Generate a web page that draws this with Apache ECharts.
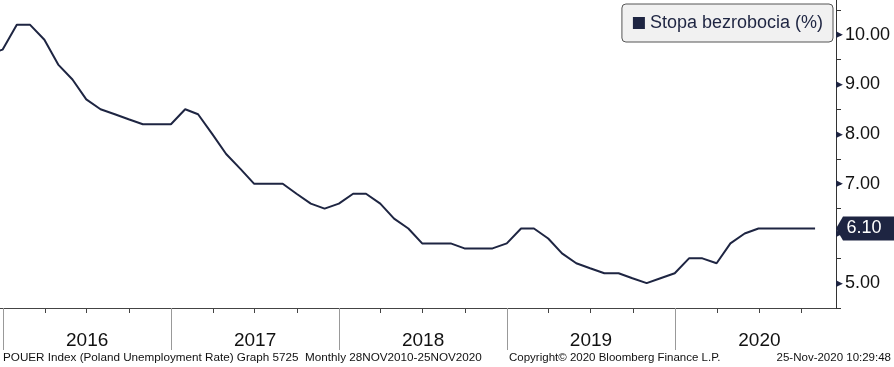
<!DOCTYPE html>
<html>
<head>
<meta charset="utf-8">
<script src="https://cdn.jsdelivr.net/npm/echarts@6/dist/echarts.min.js"></script>
<style>
html,body{margin:0;padding:0;background:#fff;}
#c{width:894px;height:367px;}
</style>
</head>
<body>
<div id="c"></div>
<script>
// Monthly observations (plotted at month end)
var months = [
  '2015-11','2015-12',
  '2016-01','2016-02','2016-03','2016-04','2016-05','2016-06','2016-07','2016-08','2016-09','2016-10','2016-11','2016-12',
  '2017-01','2017-02','2017-03','2017-04','2017-05','2017-06','2017-07','2017-08','2017-09','2017-10','2017-11','2017-12',
  '2018-01','2018-02','2018-03','2018-04','2018-05','2018-06','2018-07','2018-08','2018-09','2018-10','2018-11','2018-12',
  '2019-01','2019-02','2019-03','2019-04','2019-05','2019-06','2019-07','2019-08','2019-09','2019-10','2019-11','2019-12',
  '2020-01','2020-02','2020-03','2020-04','2020-05','2020-06','2020-07','2020-08','2020-09','2020-10'
];
var unemployment = [
  9.6, 9.7,
  10.2,10.2,9.9,9.4,9.1,8.7,8.5,8.4,8.3,8.2,8.2,8.2,
  8.5,8.4,8.0,7.6,7.3,7.0,7.0,7.0,6.8,6.6,6.5,6.6,
  6.8,6.8,6.6,6.3,6.1,5.8,5.8,5.8,5.7,5.7,5.7,5.8,
  6.1,6.1,5.9,5.6,5.4,5.3,5.2,5.2,5.1,5.0,5.1,5.2,
  5.5,5.5,5.4,5.8,6.0,6.1,6.1,6.1,6.1,6.1
];
var years = [2016, 2017, 2018, 2019, 2020];
var lastValueLabel = '6.10';
var seriesName = 'Stopa bezrobocia (%)';
var yTickLabels = ['5.00','6.00','7.00','8.00','9.00','10.00'];

function monthEnd(s) {
  var p = s.split('-');
  return Date.UTC(+p[0], +p[1], 0);
}
var data = months.map(function (m, i) { return [monthEnd(m), unemployment[i]]; });

var xMin = Date.UTC(2015, 11, 25, 12);
var xMax = Date.UTC(2020, 11, 15, 12);

var yearStarts = years.map(function (y) { return Date.UTC(y, 0, 1); });
var quarterStarts = [];
years.forEach(function (y) {
  [3, 6, 9].forEach(function (m) { quarterStarts.push(Date.UTC(y, m, 1)); });
});
var midYears = years.map(function (y) { return Date.UTC(y, 6, 2); });

var navy = '#1e2542';
var chart = echarts.init(document.getElementById('c'), null, {renderer: 'canvas'});

var baseX = {
  type: 'value', min: xMin, max: xMax, position: 'bottom', gridIndex: 0,
  splitLine: {show: false}
};

chart.setOption({
  animation: false,
  backgroundColor: '#ffffff',
  grid: {left: 0, right: 58, top: 0, bottom: 59, containLabel: false},
  legend: {
    show: true,
    data: [seriesName],
    right: 61, top: 4,
    icon: 'rect',
    itemWidth: 12, itemHeight: 12, itemGap: 6,
    backgroundColor: '#f1f1f1',
    borderColor: '#555',
    borderWidth: 1,
    borderRadius: 4,
    padding: [10, 10, 10, 11],
    textStyle: {fontFamily: 'Liberation Sans', fontSize: 18, color: navy},
    selectedMode: false
  },
  xAxis: [
    Object.assign({}, baseX, {
      axisLine: {show: true, lineStyle: {color: '#444', width: 1}},
      axisTick: {show: true, customValues: quarterStarts, length: 5, lineStyle: {color: '#444'}},
      axisLabel: {show: false}
    }),
    Object.assign({}, baseX, {
      axisLine: {show: false},
      axisTick: {show: true, customValues: yearStarts, length: 42, lineStyle: {color: '#999'}},
      axisLabel: {
        show: true, customValues: midYears, margin: 23,
        fontFamily: 'Liberation Sans', fontSize: 19, color: '#111',
        formatter: function (v) { return String(new Date(v).getUTCFullYear()); }
      }
    })
  ],
  yAxis: {
    type: 'value', position: 'right',
    min: 4.5, max: 10.7, interval: 0.5,
    splitLine: {show: false},
    axisLine: {show: true, lineStyle: {color: '#333', width: 1}},
    axisTick: {show: true, length: 5, inside: false, lineStyle: {color: '#333'}},
    axisLabel: {
      show: true, margin: 0, showMaxLabel: false,
      formatter: function (v) {
        var s = v.toFixed(2);
        if (yTickLabels.indexOf(s) < 0) return '';
        return '{t|\u25B6}{v|' + s + '}';
      },
      rich: {
        t: {fontSize: 9, color: '#1e2542', width: 9},
        v: {fontFamily: 'Liberation Sans', fontSize: 18, color: '#111'}
      }
    }
  },
  series: [{
    name: seriesName,
    type: 'line',
    xAxisIndex: 0,
    data: data,
    showSymbol: false,
    symbol: 'none',
    clip: true,
    color: navy,
    lineStyle: {color: navy, width: 2},
    markPoint: {
      symbol: 'path://M0,12 L7,0 L58,0 L58,24 L7,24 Z',
      symbolSize: [58, 24],
      symbolKeepAspect: false,
      symbolOffset: [29, 0],
      itemStyle: {color: navy},
      label: {
        show: true, color: '#fff', fontFamily: 'Liberation Sans', fontSize: 18,
        offset: [-1, 0],
        formatter: function () { return lastValueLabel; }
      },
      data: [{coord: [xMax, unemployment[unemployment.length - 1]]}]
    }
  }],
  graphic: [
    {type: 'text', left: 3, top: 352, style: {text: 'POUER Index (Poland Unemployment Rate) Graph 5725  Monthly 28NOV2010-25NOV2020', fontFamily: 'Liberation Sans', fontSize: 11.7, fill: '#111'}},
    {type: 'text', left: 509, top: 352, style: {text: 'Copyright\u00A9 2020 Bloomberg Finance L.P.', fontFamily: 'Liberation Sans', fontSize: 11.5, fill: '#111'}},
    {type: 'text', right: 3, top: 352, style: {text: '25-Nov-2020 10:29:48', fontFamily: 'Liberation Sans', fontSize: 11.5, fill: '#111'}}
  ]
});
</script>
</body>
</html>
